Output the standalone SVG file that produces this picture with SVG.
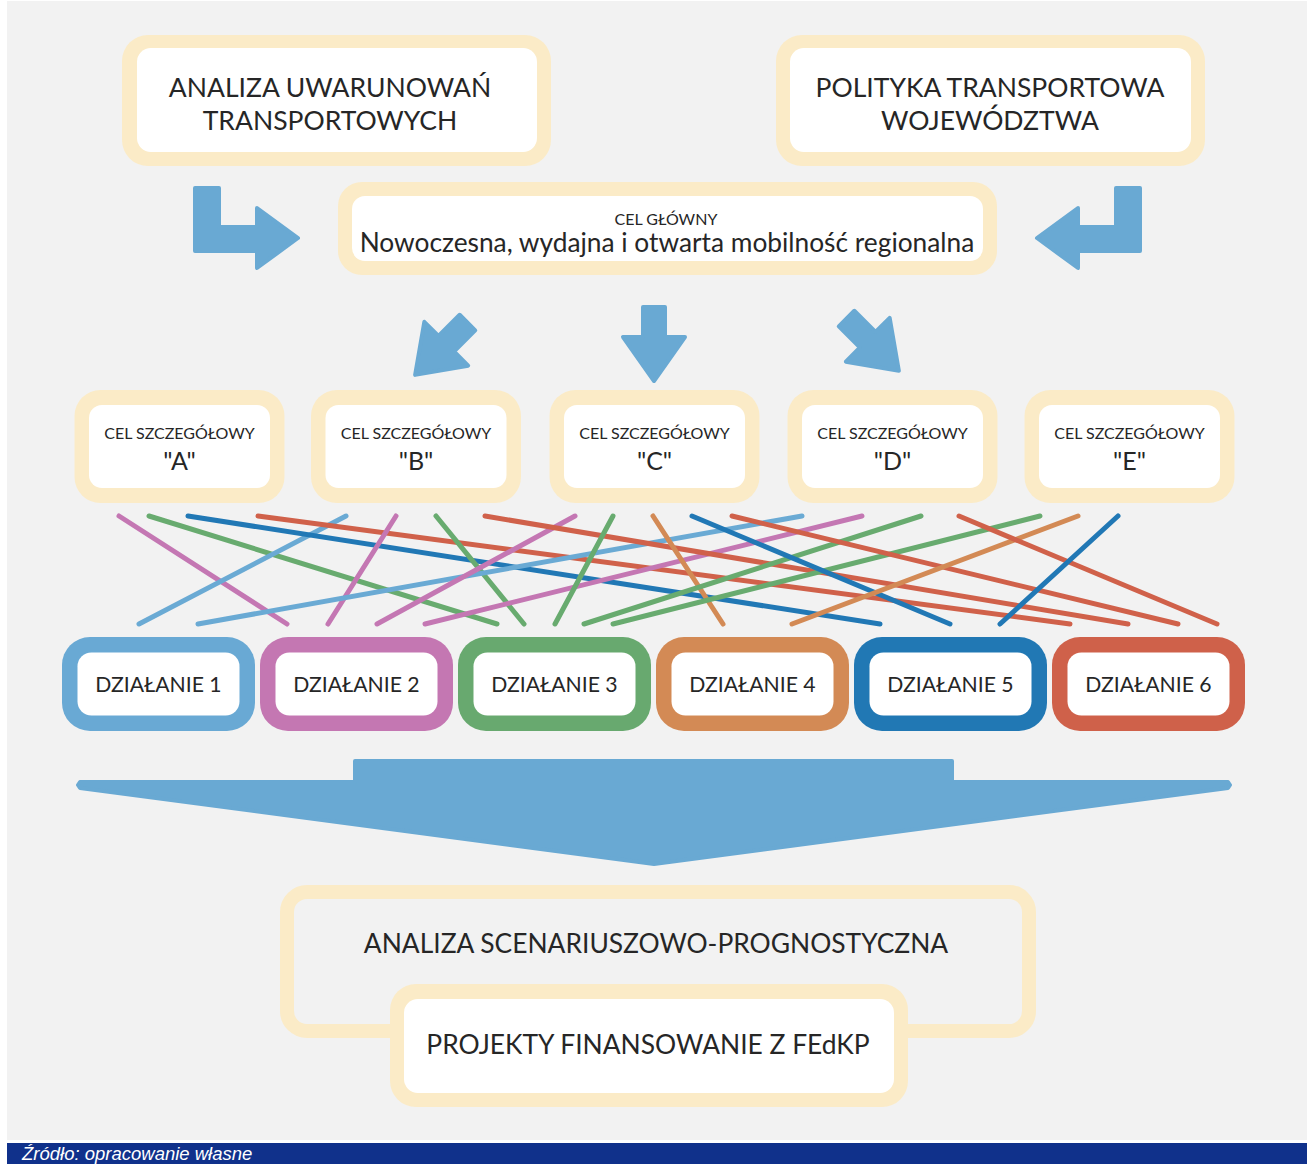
<svg xmlns="http://www.w3.org/2000/svg" width="1307" height="1164" viewBox="0 0 1307 1164">
<style>
.cream{fill:#fbebc7}
.white{fill:#ffffff}
.t{font-family:Lato,"Liberation Sans",sans-serif;fill:#262626;text-anchor:middle}
.big{font-size:26.5px}
.main{font-size:26.3px}
.small{font-size:16px}
.letter{font-size:25px}
.act{font-size:21.2px}
.bot{font-size:26.4px}
.arrow{fill:#69a9d3;stroke:#69a9d3;stroke-width:4;stroke-linejoin:round}
.ln{stroke-width:5;stroke-linecap:round;fill:none}
.lb{stroke:#6aaad4}.pk{stroke:#c477b3}.gr{stroke:#68ab6f}.or{stroke:#d38a55}.db{stroke:#2178b5}.rd{stroke:#d0614a}
</style>
<defs>
<polygon id="downArrow" points="-11,-36 11,-36 11,-6 31,-6 0,38 -31,-6 -11,-6"/>
<polygon id="lArrow" points="195,188 219,188 219,227 257,227 257,208 298,238 257,268 257,251 195,251"/>
</defs>
<rect x="0" y="0" width="1307" height="1164" fill="#ffffff"/>
<rect x="7" y="1" width="1300" height="1139" fill="#f2f2f2"/>

<g id="analiza-uwarunowan">
<rect class="cream" x="122" y="35" width="429" height="131" rx="26"/>
<rect class="white" x="137" y="48" width="400" height="104" rx="14"/>
<text class="t big" x="330" y="97">ANALIZA UWARUNOWAŃ</text>
<text class="t big" x="330" y="130">TRANSPORTOWYCH</text>
</g>
<g id="polityka-transportowa">
<rect class="cream" x="776" y="35" width="429" height="131" rx="26"/>
<rect class="white" x="790" y="48" width="401" height="104" rx="14"/>
<text class="t big" x="990" y="97">POLITYKA TRANSPORTOWA</text>
<text class="t big" x="990" y="130">WOJEWÓDZTWA</text>
</g>
<g id="cel-glowny">
<rect class="cream" x="338" y="182" width="659" height="93" rx="24"/>
<rect class="white" x="352" y="196" width="631" height="65" rx="13"/>
<text class="t small" x="666" y="225">CEL GŁÓWNY</text>
<text class="t main" x="667" y="252">Nowoczesna, wydajna i otwarta mobilność regionalna</text>
</g>

<g id="arrows">
<use href="#lArrow" class="arrow"/>
<use href="#lArrow" class="arrow" transform="translate(1335,0) scale(-1,1)"/>
<use href="#downArrow" class="arrow" transform="translate(442,348) rotate(45)"/>
<use href="#downArrow" class="arrow" transform="translate(654,343)"/>
<use href="#downArrow" class="arrow" transform="translate(872,344) rotate(-45)"/>
</g>

<g id="cel-a">
<rect class="cream" x="74.5" y="390" width="210" height="113" rx="26"/>
<rect class="white" x="89" y="405" width="181" height="83" rx="13"/>
<text class="t small" x="179.5" y="439">CEL SZCZEGÓŁOWY</text>
<text class="t letter" x="179.5" y="470">"A"</text>
</g>
<g id="cel-b">
<rect class="cream" x="311" y="390" width="210" height="113" rx="26"/>
<rect class="white" x="325.5" y="405" width="181" height="83" rx="13"/>
<text class="t small" x="416" y="439">CEL SZCZEGÓŁOWY</text>
<text class="t letter" x="416" y="470">"B"</text>
</g>
<g id="cel-c">
<rect class="cream" x="549.5" y="390" width="210" height="113" rx="26"/>
<rect class="white" x="564" y="405" width="181" height="83" rx="13"/>
<text class="t small" x="654.5" y="439">CEL SZCZEGÓŁOWY</text>
<text class="t letter" x="654.5" y="470">"C"</text>
</g>
<g id="cel-d">
<rect class="cream" x="787.5" y="390" width="210" height="113" rx="26"/>
<rect class="white" x="802" y="405" width="181" height="83" rx="13"/>
<text class="t small" x="892.5" y="439">CEL SZCZEGÓŁOWY</text>
<text class="t letter" x="892.5" y="470">"D"</text>
</g>
<g id="cel-e">
<rect class="cream" x="1024.5" y="390" width="210" height="113" rx="26"/>
<rect class="white" x="1039" y="405" width="181" height="83" rx="13"/>
<text class="t small" x="1129.5" y="439">CEL SZCZEGÓŁOWY</text>
<text class="t letter" x="1129.5" y="470">"E"</text>
</g>

<g id="connectors">
<line class="ln pk" x1="119" y1="516" x2="287" y2="624"/>
<line class="ln gr" x1="149" y1="516" x2="497" y2="624"/>
<line class="ln lb" x1="346" y1="516" x2="139" y2="624"/>
<line class="ln db" x1="188" y1="516" x2="880" y2="624"/>
<line class="ln rd" x1="258" y1="516" x2="1070" y2="624"/>
<line class="ln pk" x1="396" y1="516" x2="328" y2="624"/>
<line class="ln gr" x1="436" y1="516" x2="524" y2="624"/>
<line class="ln lb" x1="802" y1="516" x2="198" y2="624"/>
<line class="ln pk" x1="575" y1="516" x2="377" y2="624"/>
<line class="ln pk" x1="862" y1="516" x2="425" y2="624"/>
<line class="ln rd" x1="485" y1="516" x2="1128" y2="624"/>
<line class="ln gr" x1="613" y1="516" x2="555" y2="624"/>
<line class="ln or" x1="653" y1="516" x2="723" y2="624"/>
<line class="ln gr" x1="921" y1="516" x2="584" y2="624"/>
<line class="ln gr" x1="1040" y1="516" x2="613" y2="624"/>
<line class="ln db" x1="692" y1="516" x2="950" y2="624"/>
<line class="ln rd" x1="732" y1="516" x2="1178" y2="624"/>
<line class="ln or" x1="1078" y1="516" x2="792" y2="624"/>
<line class="ln rd" x1="959" y1="516" x2="1217" y2="624"/>
<line class="ln db" x1="1118" y1="516" x2="1000" y2="624"/>
</g>

<g id="dzialanie-1">
<rect x="62" y="637" width="193" height="94" rx="28" fill="#69a9d4"/>
<rect class="white" x="77.5" y="652.5" width="162" height="63" rx="14"/>
<text class="t act" x="158.5" y="692">DZIAŁANIE 1</text>
</g>
<g id="dzialanie-2">
<rect x="260" y="637" width="193" height="94" rx="28" fill="#c477b2"/>
<rect class="white" x="275.5" y="652.5" width="162" height="63" rx="14"/>
<text class="t act" x="356.5" y="692">DZIAŁANIE 2</text>
</g>
<g id="dzialanie-3">
<rect x="458" y="637" width="193" height="94" rx="28" fill="#68a96f"/>
<rect class="white" x="473.5" y="652.5" width="162" height="63" rx="14"/>
<text class="t act" x="554.5" y="692">DZIAŁANIE 3</text>
</g>
<g id="dzialanie-4">
<rect x="656" y="637" width="193" height="94" rx="28" fill="#d38a55"/>
<rect class="white" x="671.5" y="652.5" width="162" height="63" rx="14"/>
<text class="t act" x="752.5" y="692">DZIAŁANIE 4</text>
</g>
<g id="dzialanie-5">
<rect x="854" y="637" width="193" height="94" rx="28" fill="#2178b4"/>
<rect class="white" x="869.5" y="652.5" width="162" height="63" rx="14"/>
<text class="t act" x="950.5" y="692">DZIAŁANIE 5</text>
</g>
<g id="dzialanie-6">
<rect x="1052" y="637" width="193" height="94" rx="28" fill="#cf614a"/>
<rect class="white" x="1067.5" y="652.5" width="162" height="63" rx="14"/>
<text class="t act" x="1148.5" y="692">DZIAŁANIE 6</text>
</g>

<g id="funnel-arrow">
<polygon class="arrow" points="355,761 952,761 952,782 1228,782 1230,785 1228,788 654,864 80,788 78,785 80,782 355,782"/>
</g>

<g id="analiza-scenariuszowa">
<rect x="287" y="892" width="742" height="139" rx="20" fill="none" stroke="#fbebc7" stroke-width="14"/>
<text class="t bot" x="656" y="953">ANALIZA SCENARIUSZOWO-PROGNOSTYCZNA</text>
</g>
<g id="projekty">
<rect class="cream" x="390" y="984" width="518" height="123" rx="26"/>
<rect class="white" x="404" y="999" width="490" height="94" rx="14"/>
<text class="t bot" x="648" y="1054">PROJEKTY FINANSOWANIE Z FEdKP</text>
</g>

<g id="footer">
<rect x="7" y="1143" width="1300" height="21" fill="#10318b"/>
<text x="22" y="1159.5" font-family="'Liberation Sans',sans-serif" font-style="italic" font-size="18.5" fill="#ffffff">Źródło: opracowanie własne</text>
</g>
</svg>
